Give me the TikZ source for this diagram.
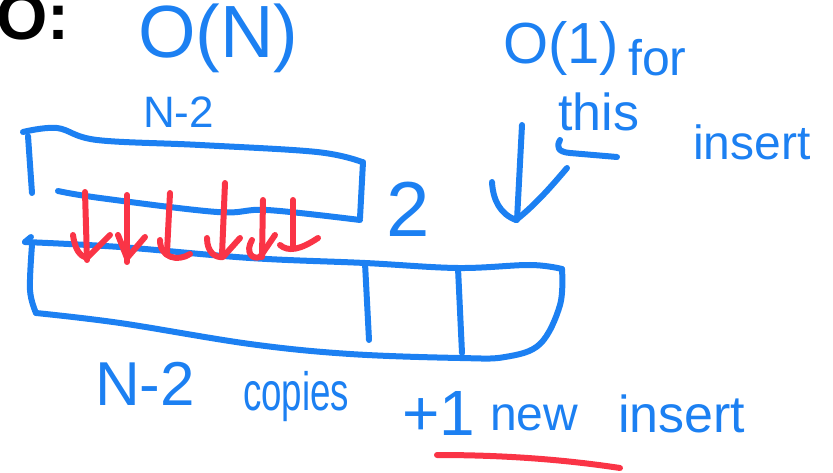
\documentclass[tikz,border=0pt]{standalone}
\usepackage{fontspec}
\setmainfont{Liberation Sans}
\definecolor{ink}{RGB}{28,128,242}
\definecolor{redink}{RGB}{250,52,70}
\newcommand\handsize[1]{\fontsize{#1}{#1}\selectfont}
\begin{document}
\begin{tikzpicture}[x=1pt,y=-1pt,
  pen/.style={draw=ink,line width=6pt,line cap=round,line join=round},
  redpen/.style={draw=redink,line width=6pt,line cap=round,line join=round},
  hand/.style={text=ink,inner sep=0pt,anchor=base west},
]
\useasboundingbox (0,0) rectangle (833,473);

% heading
\node[anchor=base west,inner sep=0pt,font=\bfseries\handsize{66}] (head) at (-4,40) {O:};
\node[hand,font=\handsize{74}] (costN) at (138,58) {O(N)};

% old array of N-2 slots
\node[hand,font=\handsize{44}] (topN) at (143,128) {N-2};
\draw[pen] plot[smooth,tension=0.6] coordinates {(23,132) (57,128) (97,140) (200,145) (317,152) (362,162)};
\draw[pen] (28,136) -- (32,193);
\draw[pen] (363,162) -- (360,218);
\draw[pen] plot[smooth,tension=0.6] coordinates {(58,191) (100,198) (217,212) (267,210) (360,220)};
\node[hand,font=\handsize{78}] (two) at (386,237) {2};

% new, larger array
\draw[pen] (25,242) -- (31,237);
\draw[pen] plot[smooth,tension=0.6] coordinates {(25,242) (120,247) (250,258) (365,263) (458,268) (530,265) (562,269)};
\draw[pen] plot[smooth,tension=0.6] coordinates {(32,245) (30,290) (36,313)};
\draw[pen] plot[smooth,tension=0.6] coordinates {(562,269) (560,305) (540,344) (505,357) (460,358) (350,354) (250,344) (120,323) (36,313)};
\draw[pen] (365,263) -- (369,340);
\draw[pen] (458,268) -- (462,353);

% copy arrows
\draw[redpen] (85,192) -- (87,260);
\draw[redpen] (73,235) .. controls (75,250) and (80,256) .. (87,258) -- (110,235);
\draw[redpen] (127,195) -- (127,262);
\draw[redpen] (118,235) -- (127,258) -- (145,237);
\draw[redpen] (170,193) -- (167,252);
\draw[redpen] (160,240) .. controls (160,258) and (178,262) .. (190,254);
\draw[redpen] (225,183) -- (222,255);
\draw[redpen] (207,238) .. controls (207,252) and (215,258) .. (223,257) -- (240,238);
\draw[redpen] (263,200) -- (262,257);
\draw[redpen] (252,240) .. controls (245,252) and (252,260) .. (260,257) -- (275,235);
\draw[redpen] (293,200) -- (293,247);
\draw[redpen] (280,245) .. controls (288,252) and (300,250) .. (318,238);

% constant-time insert note
\node[hand,font=\handsize{58}] (cost1) at (503,64) {O(1)};
\node[hand,font=\handsize{50}] (for) at (628,76) {for};
\node[hand,font=\handsize{52}] (this) at (558,131) {this};
\draw[pen] (560,140) .. controls (556,147) and (558,152) .. (570,153) -- (617,157);
\node[hand,font=\handsize{48}] (ins1) at (693,160) {insert};
\draw[pen] (522,125) -- (517,220);
\draw[pen] (492,182) .. controls (493,200) and (500,214) .. (516,220);
\draw[pen] (567,168) .. controls (550,188) and (535,205) .. (516,220);

% totals
\node[hand,font=\handsize{62}] (botN) at (95,405) {N-2};
\node[hand,font=\handsize{54}] (copies) at (243,410) {\scalebox{0.68}[1]{copies}};
\node[hand,font=\handsize{64}] (plus) at (402,435) {+1};
\node[hand,font=\handsize{48}] (new) at (490,430) {new};
\node[hand,font=\handsize{52}] (ins2) at (618,432) {insert};
\draw[redpen] (437,455) .. controls (520,455) and (580,462) .. (620,468);
\end{tikzpicture}
\end{document}
